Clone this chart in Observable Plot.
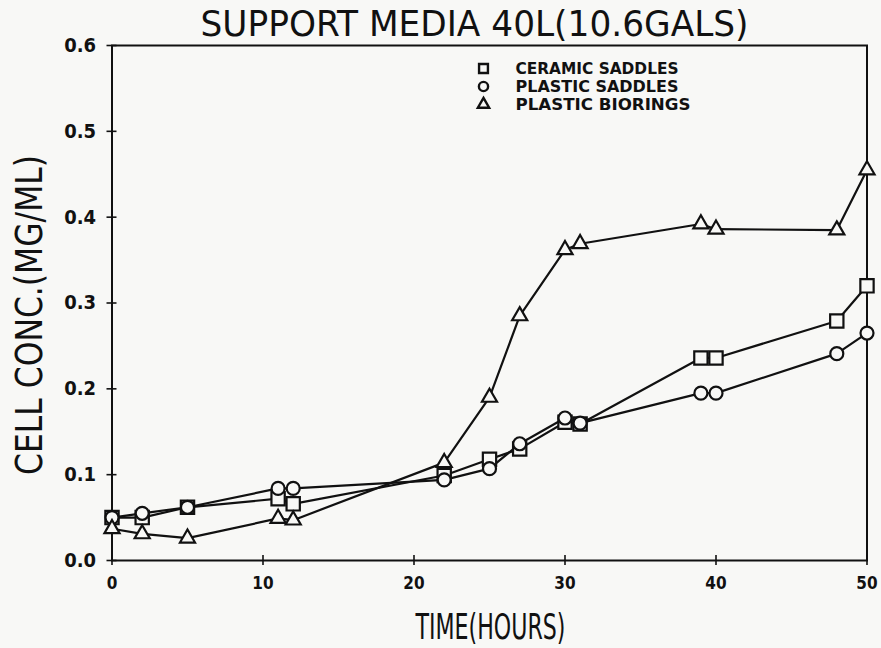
<!DOCTYPE html>
<html>
<head>
<meta charset="utf-8">
<script src="https://cdn.jsdelivr.net/npm/d3@7"></script>
<script src="https://cdn.jsdelivr.net/npm/@observablehq/plot@0.6"></script>
<style>
  html, body { margin: 0; padding: 0; background: #f8f8f6; }
  #chart svg { display: block; }
</style>
</head>
<body>
<div id="chart"></div>
<script>
const hours = [0, 2, 5, 11, 12, 22, 25, 27, 30, 31, 39, 40, 48, 50];
const ceramicSaddles = [0.050, 0.050, 0.062, 0.072, 0.066, 0.099, 0.118, 0.130, 0.161, 0.159, 0.236, 0.236, 0.279, 0.320];
const plasticSaddles = [0.050, 0.055, 0.062, 0.084, 0.084, 0.094, 0.107, 0.136, 0.166, 0.160, 0.195, 0.195, 0.241, 0.265];
const plasticBiorings = [0.037, 0.031, 0.026, 0.049, 0.047, 0.114, 0.190, 0.285, 0.362, 0.369, 0.392, 0.386, 0.385, 0.455];
const seriesNames = ["CERAMIC SADDLES", "PLASTIC SADDLES", "PLASTIC BIORINGS"];
const seriesSymbols = ["square", "circle", "triangle"];
const xTicks = [0, 10, 20, 30, 40, 50];
const yTicks = [0, 0.1, 0.2, 0.3, 0.4, 0.5, 0.6];
const titleText = "SUPPORT MEDIA 40L(10.6GALS)";
const xLabel = "TIME(HOURS)";
const yLabel = "CELL CONC.(MG/ML)";

const seriesValues = [ceramicSaddles, plasticSaddles, plasticBiorings];
const rows = [];
seriesNames.forEach((name, i) => {
  hours.forEach((h, j) => rows.push({series: name, symbol: seriesSymbols[i], t: h, c: seriesValues[i][j]}));
});

const ink = "#111";
const paper = "#f8f8f6";
const font = "'DejaVu Sans Condensed', 'Liberation Sans Narrow', 'DejaVu Sans', sans-serif";
const dotR = {square: 7.5, circle: 6.5, triangle: 5.6};
const legendR = {square: 5, circle: 4.6, triangle: 4.2};
const legendLen = [163, 163, 175];

const dotMarks = seriesNames.map((name, i) =>
  Plot.dot(rows.filter(d => d.series === name), {x: "t", y: "c", symbol: seriesSymbols[i], r: dotR[seriesSymbols[i]], stroke: ink, strokeWidth: 2.2, fill: paper})
);

const legendMarks = [];
seriesNames.forEach((name, i) => {
  legendMarks.push(Plot.dot([name], {frameAnchor: "top-left", dx: 371.5, dy: 23 + i * 18, symbol: seriesSymbols[i], r: legendR[seriesSymbols[i]], stroke: ink, strokeWidth: 2.4, fill: paper}));
  legendMarks.push(Plot.text([name], {frameAnchor: "top-left", dx: 403.5, dy: 23.5 + i * 18, text: d => d, textAnchor: "start", lineAnchor: "middle", fontSize: 15, fontWeight: "bold", fill: ink, className: "leg" + i}));
});

const chart = Plot.plot({
  width: 881,
  height: 648,
  marginLeft: 111.5,
  marginRight: 14.5,
  marginTop: 45,
  marginBottom: 88,
  style: {background: paper, fontFamily: font, color: ink},
  x: {domain: [0, 50]},
  y: {domain: [0, 0.6]},
  marks: [
    Plot.frame({stroke: ink, strokeWidth: 2}),
    Plot.axisX({ticks: xTicks, tickSize: 5, tickPadding: 11, tickFormat: d => String(d), label: null, fontSize: 17, fontWeight: "bold", stroke: ink, strokeWidth: 1.6}),
    Plot.axisX({ticks: xTicks, tickSize: -5, text: null, label: null, stroke: ink, strokeWidth: 1.6}),
    Plot.axisY({ticks: yTicks, tickSize: 5, tickPadding: 11, tickFormat: d3.format(".1f"), label: null, fontSize: 20, fontWeight: "bold", stroke: ink, strokeWidth: 1.6}),
    Plot.axisY({ticks: yTicks, tickSize: -5, text: null, label: null, stroke: ink, strokeWidth: 1.6}),
    Plot.line(rows, {x: "t", y: "c", z: "series", stroke: ink, strokeWidth: 2.2}),
    ...dotMarks,
    ...legendMarks,
    Plot.text([titleText], {frameAnchor: "top", dx: -15, dy: -21, text: d => d, lineAnchor: "middle", fontSize: 36, fill: ink, className: "ttl"}),
    Plot.text([xLabel], {frameAnchor: "bottom", dx: 1, dy: 67, text: d => d, lineAnchor: "middle", fontSize: 36, fill: ink, className: "xlab"}),
    Plot.text([yLabel], {frameAnchor: "left", dx: -81.5, dy: 12, rotate: -90, textAnchor: "middle", lineAnchor: "middle", text: d => d, fontSize: 37, fill: ink, className: "ylab"})
  ]
});
const fit = (cls, len) => {
  chart.querySelectorAll(`.${cls} text`).forEach(t => {
    t.setAttribute("textLength", len);
    t.setAttribute("lengthAdjust", "spacingAndGlyphs");
  });
};
fit("ttl", 548);
fit("xlab", 150);
fit("ylab", 320);
legendLen.forEach((len, i) => fit("leg" + i, len));
document.getElementById("chart").appendChild(chart);
</script>
</body>
</html>
